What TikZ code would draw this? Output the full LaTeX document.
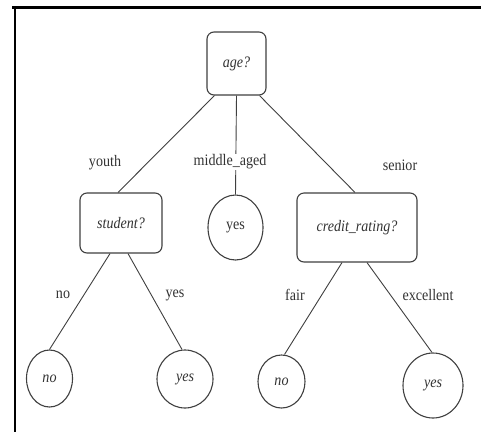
\documentclass[tikz,border=0pt]{standalone}
\usepackage{fontspec}
\setmainfont[FakeStretch=0.88]{Liberation Serif}
\usetikzlibrary{shapes.geometric,calc}
\begin{document}
\begin{tikzpicture}[x=1pt,y=1pt,
  every node/.style={font=\fontsize{16}{18}\selectfont, text=black!80},
  decbox/.style={draw=black!75, line width=1.1pt, rounded corners=7pt, inner sep=0pt, font=\fontsize{16}{18}\selectfont\itshape},
  leaf/.style={draw=black!75, line width=1.1pt, ellipse, inner sep=0pt},
  conn/.style={draw=black!75, line width=0.9pt},
  lbl/.style={inner sep=1pt}]
\useasboundingbox (0,0) rectangle (481,-432);
\fill[white] (0,0) rectangle (481,-432);
\coordinate (tl) at (12,-7);
\coordinate (tr) at (481,-7);
\coordinate (lt) at (15,-6);
\coordinate (lb) at (15,-432);
\draw[line width=3pt] (tl) -- (tr);
\draw[line width=2pt] (lt) -- (lb);

\node[decbox, minimum width=59pt, minimum height=63pt] (age) at (236.5,-63.5) {age?};
\node[decbox, minimum width=82pt, minimum height=60pt] (student) at (121,-223) {student?};
\node[decbox, minimum width=120pt, minimum height=69pt] (credit) at (357,-227.5) {credit\_rating?};
\node[leaf, minimum width=55pt, minimum height=65pt] (mid) at (235.5,-227.5) {yes};
\node[leaf, minimum width=46pt, minimum height=57pt, font=\fontsize{16}{18}\selectfont\itshape] (no1) at (49.5,-378.5) {no};
\node[leaf, minimum width=56pt, minimum height=58pt, font=\fontsize{16}{18}\selectfont\itshape] (yes1) at (185,-379) {yes};
\node[leaf, minimum width=47pt, minimum height=53pt, font=\fontsize{16}{18}\selectfont\itshape] (no2) at (281.5,-381.5) {no};
\node[leaf, minimum width=60pt, minimum height=65pt, font=\fontsize{16}{18}\selectfont\itshape] (yes2) at (433,-385.5) {yes};

\node[lbl] (lyouth) at (105,-163) {youth};
\node[lbl, fill=white] (lmid) at (230,-162) {middle\_aged};
\node[lbl] (lsenior) at (400,-165) {senior};
\node[lbl] (lno) at (63,-295) {no};
\node[lbl] (lyes) at (175,-295) {yes};
\node[lbl] (lfair) at (295,-295) {fair};
\node[lbl] (lexc) at (428,-295) {excellent};

\draw[conn] ($(age.south)+(-22,0)$) -- ($(student.north)+(-3,0)$);
\draw[conn] (age.south) -- (mid.north);
\draw[conn] ($(age.south)+(23,0)$) -- ($(credit.north)+(-2,0)$);
\node[lbl, fill=white] at (lmid) {middle\_aged};
\draw[conn] ($(student.south)+(-11,0)$) -- (no1.north);
\draw[conn] ($(student.south)+(7,0)$) -- ($(yes1.north)+(-3,0)$);
\draw[conn] ($(credit.south)+(-15,0)$) -- ($(no2.north)+(3,0)$);
\draw[conn] ($(credit.south)+(10,0)$) -- ($(yes2.north)+(-1,0)$);
\end{tikzpicture}
\end{document}
